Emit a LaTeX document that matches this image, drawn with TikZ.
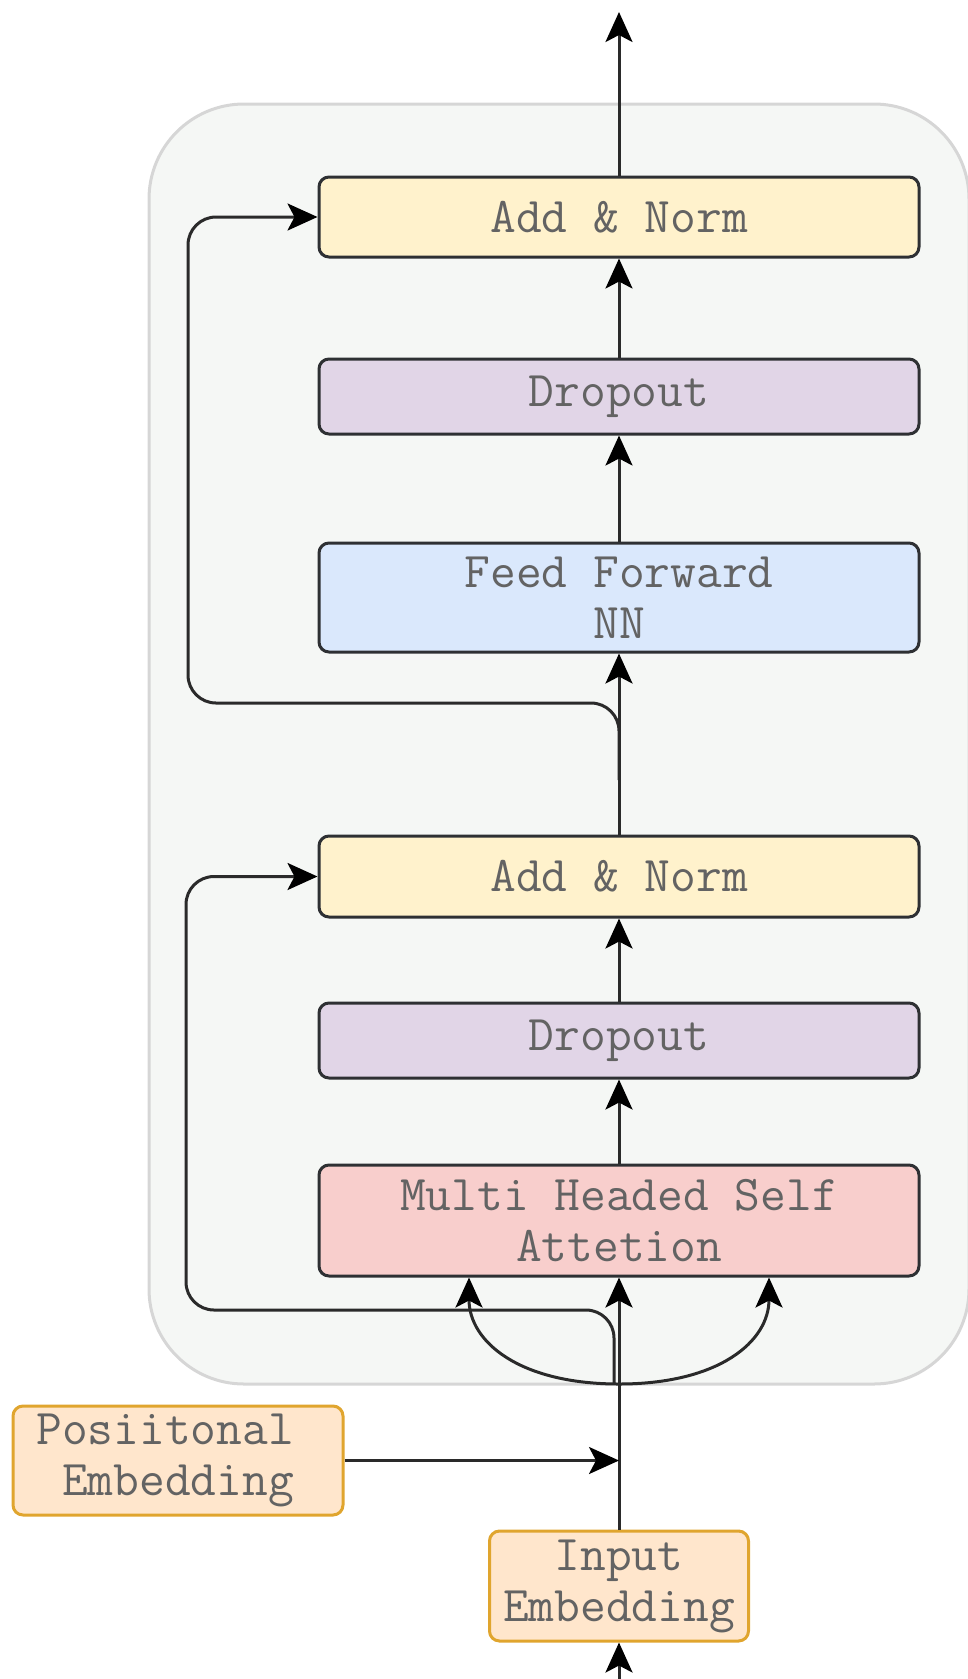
\documentclass[tikz,border=0pt]{standalone}
\usetikzlibrary{arrows.meta,calc}
\definecolor{normfill}{HTML}{FFF2CC}
\definecolor{dropfill}{HTML}{E1D5E7}
\definecolor{ffnfill}{HTML}{DAE8FC}
\definecolor{attfill}{HTML}{F8CECC}
\definecolor{embfill}{HTML}{FFE6CC}
\definecolor{embline}{HTML}{E0A52E}
\definecolor{boxline}{HTML}{2E3033}
\definecolor{wirecol}{HTML}{2A2A2A}
\definecolor{blockfill}{HTML}{F5F7F5}
\definecolor{blockline}{HTML}{D6D6D6}
\definecolor{labelcol}{HTML}{636363}
\begin{document}
\begin{tikzpicture}[x=1pt,y=-1pt,
  layer/.style={draw=boxline, line width=3pt, rounded corners=10pt,
    minimum width=600pt, text=labelcol, align=center, inner sep=0pt,
    font=\ttfamily\fontsize{50}{51}\selectfont},
  embed/.style={layer, draw=embline, fill=embfill},
  block/.style={draw=blockline, fill=blockfill, line width=3pt, rounded corners=95pt},
  wire/.style={draw=wirecol, line width=3pt,
    -{Stealth[length=30pt,width=27pt,inset=7pt,fill=black,color=black]}},
]
\useasboundingbox (0,0) rectangle (968,1679);

% encoder block background
\node[block, minimum width=820pt, minimum height=1280pt] (encoder) at (559,744) {};

% layers of the encoder
\node[layer, fill=normfill, minimum height=80pt]  (norm1) at (619,217)    {Add \& Norm};
\node[layer, fill=dropfill, minimum height=75pt]  (drop1) at (619,396.5)  {Dropout};
\node[layer, fill=ffnfill,  minimum height=109pt] (ffn)   at (619,597.5)  {Feed Forward\\NN};
\node[layer, fill=normfill, minimum height=81pt]  (norm2) at (619,876.5)  {Add \& Norm};
\node[layer, fill=dropfill, minimum height=75pt]  (drop2) at (619,1040.5) {Dropout};
\node[layer, fill=attfill,  minimum height=111pt] (mhsa)  at (619,1220.5) {Multi Headed Self\\Attetion};

% embeddings
\node[embed, minimum width=330pt, minimum height=109pt] (pos) at (178,1460.5)
  {Posiitonal\hphantom{x}\\\hphantom{x}Embedding\hphantom{x}};
\node[embed, minimum width=259pt, minimum height=110pt] (inp) at (619,1586)
  {Input\\Embedding};

% free ends and branch points
\coordinate (out)   at (619,12);
\coordinate (src)   at (619,1690);
\coordinate (split) at (619,1384);
\coordinate (join)  at (inp.north |- pos.east);
\coordinate (qin)   at ($(mhsa.south)+(-150,0)$);
\coordinate (vin)   at ($(mhsa.south)+(150,0)$);
\coordinate (tap)   at ($(norm2.north)!0.3!(ffn.south)$);

% main data path
\draw[wire] (norm1.north) -- (out);
\draw[wire] (drop1.north) -- (norm1.south);
\draw[wire] (ffn.north)   -- (drop1.south);
\draw[wire] (norm2.north) -- (ffn.south);
\draw[wire] (drop2.north) -- (norm2.south);
\draw[wire] (mhsa.north)  -- (drop2.south);
\draw[wire] (inp.north)   -- (mhsa.south);
\draw[wire] (src)         -- (inp.south);
\draw[wire] (pos.east)    -- (join);

% query / value branches
\draw[wire] (split) .. controls ($(split)+(-100,0)$) and ($(qin)+(0,64)$) .. (qin);
\draw[wire] (split) .. controls ($(split)+(100,0)$)  and ($(vin)+(0,64)$) .. (vin);

% residual connections
\draw[wire, rounded corners=28pt] ([xshift=-5pt]split) -- (614,1310) -- (186,1310)
  -- (186,0 |- norm2.west) -- (norm2.west);
\draw[wire, rounded corners=28pt] (tap) -- (619,703) -- (188,703)
  -- (188,0 |- norm1.west) -- (norm1.west);
\end{tikzpicture}
\end{document}
